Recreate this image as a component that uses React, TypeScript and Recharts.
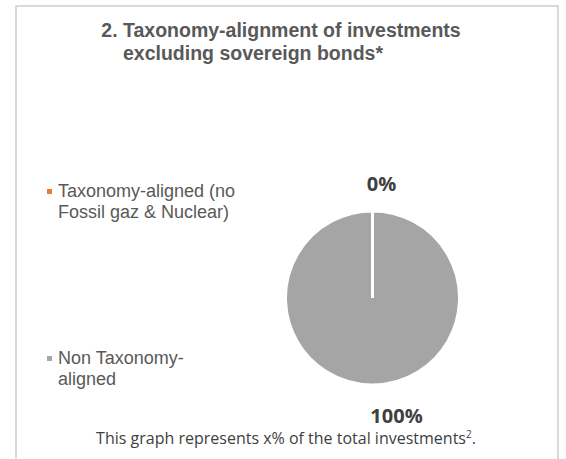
import { PieChart, Pie, Cell, Legend } from 'recharts';

const categories = ['Taxonomy-aligned (no\nFossil gaz & Nuclear)', 'Non Taxonomy-\naligned'];
const shares = [0, 100];
const sliceLabels = ['0%', '100%'];
const sliceColors = ['#ed7d31', '#a5a5a5'];
const titleLines = ['2. Taxonomy-alignment of investments', 'excluding sovereign bonds*'];
const footnote = 'This graph represents x% of the total investments';

const chartData = categories.map((name, i) => ({ name, value: shares[i], label: sliceLabels[i] }));

const legendTops = [181, 348];

const renderLegend = (props: any) => {
  const payload = [...(props.payload || [])].sort(
    (a: any, b: any) => categories.indexOf(a.value) - categories.indexOf(b.value)
  );
  return (
    <div style={{ position: 'relative', width: 566, height: 459 }}>
      {payload.map((entry: any) => {
        const i = categories.indexOf(entry.value);
        return (
          <div
            key={i}
            style={{
              position: 'absolute',
              left: 58,
              top: legendTops[i],
              fontFamily: '"Liberation Sans", Arial, sans-serif',
              fontSize: 18,
              lineHeight: '21px',
              color: '#595959',
              whiteSpace: 'pre-line',
              textAlign: 'left',
            }}
          >
            <span
              style={{
                position: 'absolute',
                left: -11,
                top: 8,
                width: 5,
                height: 5,
                background: entry.color || sliceColors[i],
              }}
            />
            {entry.value}
          </div>
        );
      })}
    </div>
  );
};

const renderLabel = (props: any) => {
  const { cx, cy, outerRadius, index } = props;
  const x = index === 0 ? cx + 9 : cx + 24;
  const y = index === 0 ? cy - outerRadius - 20 : cy + outerRadius + 38;
  return (
    <text
      x={x}
      y={y}
      textAnchor="middle"
      fill="#404040"
      fontFamily='"Open Sans", sans-serif'
      fontWeight="bold"
      fontSize={20}
    >
      {chartData[index].label}
    </text>
  );
};

export default function App() {
  return (
    <div style={{ position: 'absolute', left: 0, top: 0, width: 566, height: 459, background: '#fff', overflow: 'hidden' }}>
      <svg width={566} height={459} style={{ position: 'absolute', left: 0, top: 0 }}>
        <rect x={16} y={6} width={542} height={470} fill="none" stroke="#d9d9d9" strokeWidth={2} />
        <text x={281} y={37} textAnchor="middle" fill="#595959" fontFamily='"Liberation Sans", Arial, sans-serif' fontWeight="bold" fontSize={19.5}>
          {titleLines[0]}
        </text>
        <text x={253} y={60} textAnchor="middle" fill="#595959" fontFamily='"Liberation Sans", Arial, sans-serif' fontWeight="bold" fontSize={19.5}>
          {titleLines[1]}
        </text>
        <text x={286} y={444} textAnchor="middle" fill="#404040" fontFamily='"Open Sans", sans-serif' fontSize={16}>
          {footnote}
          <tspan dy={-6} fontSize={10}>2</tspan>
          <tspan dy={6}>.</tspan>
        </text>
      </svg>
      <div style={{ position: 'absolute', left: 0, top: 0 }}>
        <PieChart width={566} height={459} margin={{ top: 0, right: 0, bottom: 0, left: 0 }}>
          <Pie
            data={chartData}
            dataKey="value"
            nameKey="name"
            cx={372.5}
            cy={298}
            outerRadius={87}
            startAngle={90}
            endAngle={-270}
            stroke="#ffffff"
            strokeWidth={3}
            label={renderLabel}
            labelLine={false}
            isAnimationActive={false}
          >
            {chartData.map((d, i) => (
              <Cell key={d.name} fill={sliceColors[i]} />
            ))}
          </Pie>
          <Legend
            content={renderLegend}
            wrapperStyle={{ position: 'absolute', left: 0, top: 0, width: 566, height: 459 }}
          />
        </PieChart>
      </div>
    </div>
  );
}
